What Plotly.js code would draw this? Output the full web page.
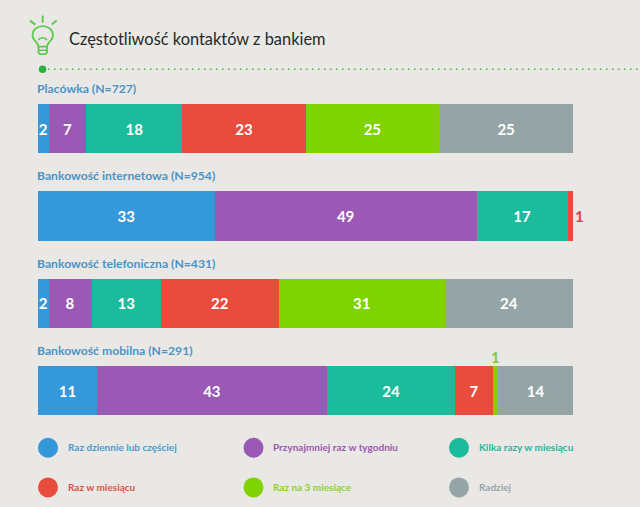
<!DOCTYPE html>
<html>
<head>
<meta charset="utf-8">
<script src="https://cdn.plot.ly/plotly-3.0.1.min.js"></script>
<style>html,body{margin:0;padding:0;background:#e9e8e4;}</style>
</head>
<body>
<div id="chart" style="width:640px;height:507px;"></div>
<script>
const title = "Częstotliwość kontaktów z bankiem";
const categories = ["Placówka (N=727)", "Bankowość internetowa (N=954)", "Bankowość telefoniczna (N=431)", "Bankowość mobilna (N=291)"];
const seriesNames = ["Raz dziennie lub częściej", "Przynajmniej raz w tygodniu", "Kilka razy w miesiącu", "Raz w miesiącu", "Raz na 3 miesiące", "Radziej"];
const colors = ["#3498db", "#9b59b6", "#1abc9c", "#e74c3c", "#7ed300", "#95a5a6"];
const textColors = ["#4a9bd0", "#9b59b0", "#2ab59a", "#d9534a", "#8fd12a", "#9aa5a8"];
const raz_dziennie = [2, 33, 2, 11];
const raz_tydzien = [7, 49, 8, 43];
const kilka_razy = [18, 17, 13, 24];
const raz_miesiac = [23, 1, 22, 7];
const raz_3_miesiace = [25, 0, 31, 1];
const radziej = [25, 0, 24, 14];
const seriesValues = [raz_dziennie, raz_tydzien, kilka_razy, raz_miesiac, raz_3_miesiace, radziej];

const W = 640, H = 507;
const L = 38, R = 67, T = 84.5, B = 68;
const pw = W - L - R, ph = H - T - B;
const font = "Lato, 'Open Sans', sans-serif";
const px = x => (x - L) / pw;
const py = y => 1 - (y - T) / ph;
const green = "#5cc94f";

const traces = seriesValues.map((vals, i) => ({
  type: "bar", orientation: "h", name: seriesNames[i],
  y: categories, x: vals,
  marker: {color: colors[i], line: {width: 0}},
  text: vals.map(v => v > 1 ? String(v) : ""),
  textposition: "inside", insidetextanchor: "middle", textangle: 0,
  constraintext: "none",
  textfont: {family: font, size: 15, color: "#ffffff", weight: 700},
  hoverinfo: "x+name"
}));

const annotations = [];
function note(text, x, y, size, color, weight, extra) {
  annotations.push(Object.assign({
    text: weight ? "<b>" + text + "</b>" : text, xref: "paper", yref: "paper",
    x: px(x), y: py(y), xanchor: "left", yanchor: "middle", showarrow: false,
    font: {family: font, size: size, color: color}, borderpad: 0
  }, extra || {}));
}
note(title, 68, 38, 16.4, "#26282a", false);
categories.forEach((c, i) => {
  annotations.push({
    text: "<b>" + c + "</b>", xref: "paper", yref: "y", x: 0, y: c,
    xanchor: "left", yanchor: "middle", xshift: -2, yshift: 40, showarrow: false,
    font: {family: font, size: 12.2, color: "#4a94c8"}, borderpad: 0
  });
});
// small-value labels outside their segments
annotations.push({
  text: "<b>" + raz_miesiac[1] + "</b>", xref: "x", yref: "y", x: 100, y: categories[1],
  xanchor: "left", yanchor: "middle", xshift: 1, showarrow: false,
  font: {family: font, size: 15, color: "#d9434f"}, borderpad: 0
});
annotations.push({
  text: "<b>" + raz_3_miesiace[3] + "</b>", xref: "x", yref: "y",
  x: raz_dziennie[3] + raz_tydzien[3] + kilka_razy[3] + raz_miesiac[3] + raz_3_miesiace[3] / 2,
  y: categories[3], xanchor: "center", yanchor: "bottom", yshift: 24, showarrow: false,
  font: {family: font, size: 15, color: "#8cc63f"}, borderpad: 0
});

const shapes = [];
const legendX = [48, 253.5, 459];
const legendY = [447.8, 487.5];
seriesNames.forEach((n, i) => {
  const cx = legendX[i % 3], cy = legendY[Math.floor(i / 3)], r = 10;
  shapes.push({type: "circle", xref: "paper", yref: "paper",
    x0: px(cx - r), x1: px(cx + r), y0: py(cy + r), y1: py(cy - r),
    fillcolor: colors[i], line: {width: 0}});
  note(n, cx + 18.5, cy - 0.8, 10, textColors[i], true);
});

function linePath(pts, sty) {
  shapes.push(Object.assign({type: "line", xref: "paper", yref: "paper",
    x0: px(pts[0]), y0: py(pts[1]), x1: px(pts[2]), y1: py(pts[3]),
    line: {color: green, width: 2}}, sty || {}));
}
function pathShape(cmds, width) {
  const d = cmds.map(c => c[0] + " " + c.slice(1).map((v, k) => (k % 2 ? py(v) : px(v)).toFixed(5)).join(" ")).join(" ");
  shapes.push({type: "path", xref: "paper", yref: "paper", path: d, line: {color: green, width: width}, fillcolor: "rgba(0,0,0,0)"});
}
// lightbulb icon
linePath([42.7, 15, 42.7, 22]);
linePath([30, 20, 35.3, 24]);
linePath([56.7, 20, 51.7, 24]);
pathShape([["M", 38.5, 46], ["C", 38, 41, 32.5, 40.5, 32.5, 35], ["C", 32.5, 29, 37, 25.5, 42.7, 25.5],
  ["C", 48.5, 25.5, 53, 29, 53, 35], ["C", 53, 40.5, 47.5, 41, 47, 46], ["Z"]], 1.8);
pathShape([["M", 38.5, 46], ["L", 38.5, 52], ["L", 40, 53.5], ["L", 45.5, 53.5], ["L", 47, 52], ["L", 47, 46]], 1.8);
linePath([38.5, 49.7, 47, 49.7], {line: {color: green, width: 1.5}});
pathShape([["M", 38.5, 39.5], ["C", 40, 36.5, 45, 36.5, 47, 39.5]], 1.6);
// divider
shapes.push({type: "line", xref: "paper", yref: "paper", x0: px(48), x1: px(640), y0: py(68.8), y1: py(68.8),
  line: {color: "#4caf50", width: 1.5, dash: "1.5px,4.5px"}});
shapes.push({type: "circle", xref: "paper", yref: "paper", x0: px(38.8), x1: px(46.4), y0: py(72.6), y1: py(65),
  fillcolor: "#2fae3c", line: {width: 0}});

const layout = {
  width: W, height: H,
  margin: {l: L, r: R, t: T, b: B, pad: 0},
  paper_bgcolor: "#e9e8e4", plot_bgcolor: "#e9e8e4",
  barmode: "stack", bargap: 0.435, showlegend: false,
  xaxis: {range: [0, 100], visible: false, fixedrange: true},
  yaxis: {type: "category", autorange: "reversed", visible: false, fixedrange: true, categoryorder: "array", categoryarray: categories},
  annotations: annotations, shapes: shapes, font: {family: font}
};
Plotly.newPlot("chart", traces, layout, {displayModeBar: false, staticPlot: true});
</script>
</body>
</html>
